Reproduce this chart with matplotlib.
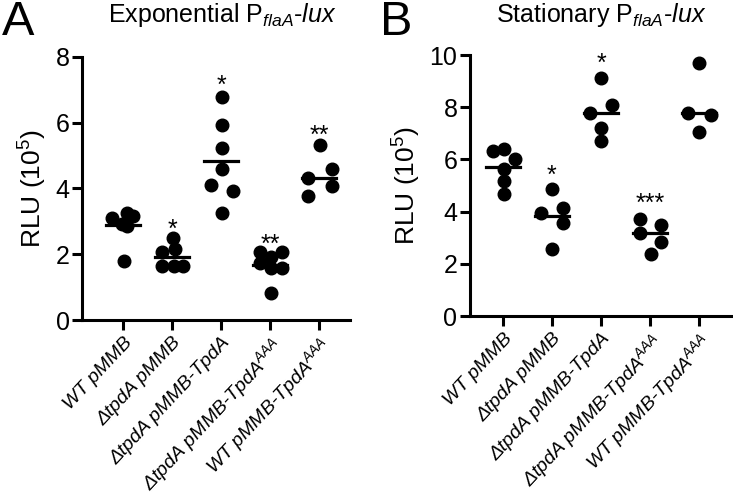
import matplotlib
matplotlib.use('Agg')
import matplotlib.pyplot as plt
import numpy as np

plt.rcParams['font.family'] = ['Liberation Sans', 'DejaVu Sans']
plt.rcParams['mathtext.fontset'] = 'custom'
plt.rcParams['mathtext.rm'] = 'Liberation Sans'
plt.rcParams['mathtext.it'] = 'Liberation Sans:italic'
plt.rcParams['mathtext.bf'] = 'Liberation Sans:bold'

# strains on the x axis
groups = ['WT pMMB', 'ΔtpdA pMMB', 'ΔtpdA pMMB-TpdA',
          'ΔtpdA pMMB-TpdA$^{AAA}$', 'WT pMMB-TpdA$^{AAA}$']

# exponential phase, RLU (10^5)
exp_vals = [
    [3.09, 3.25, 3.15, 2.93, 2.85, 1.80],
    [2.50, 2.15, 2.06, 1.64, 1.64, 1.64],
    [6.79, 5.93, 5.24, 4.58, 4.11, 3.92, 3.26],
    [2.06, 2.06, 1.91, 1.72, 1.57, 1.59, 0.81],
    [5.32, 4.59, 4.31, 4.08, 3.78],
]
exp_lines = [2.88, 1.92, 4.85, 1.68, 4.31]
exp_stars = ['', '*', '*', '**', '**']

# stationary phase, RLU (10^5)
stat_vals = [
    [6.33, 6.40, 6.00, 5.63, 5.19, 4.66],
    [4.87, 3.93, 4.13, 3.58, 2.57],
    [9.11, 8.08, 7.79, 7.19, 6.72],
    [3.70, 3.49, 3.19, 2.85, 2.38],
    [9.68, 7.79, 7.70, 7.06],
]
stat_lines = [5.72, 3.83, 7.79, 3.17, 7.76]
stat_stars = ['', '*', '*', '***', '']

# layout: horizontal scatter of the dots, and height of the stars
exp_jitter = [
    [-0.23, 0.08, 0.21, -0.03, 0.08, 0.02],
    [0.01, 0.06, -0.21, -0.21, 0.03, 0.23],
    [0.01, 0.01, 0.01, 0.01, -0.20, 0.24, 0.01],
    [-0.21, 0.24, 0.01, -0.21, 0.01, 0.24, 0.01],
    [0.02, 0.26, -0.22, 0.26, -0.22],
]
stat_jitter = [
    [-0.21, 0.02, 0.24, 0.02, 0.02, 0.02],
    [0.0, -0.23, 0.23, 0.23, 0.0],
    [0.0, 0.23, -0.22, 0.0, 0.0],
    [-0.21, 0.22, -0.21, 0.22, 0.01],
    [0.0, -0.22, 0.24, 0.0],
]
exp_star_y = [0, 2.98, 7.36, 2.53, 5.83]
stat_star_y = [0, 5.66, 9.94, 4.57, 0]


def draw_panel(ax, vals, lines, jitter, stars, star_y, ymax, xlim):
    for i, v in enumerate(vals):
        x = i + np.array(jitter[i])
        ax.scatter(x, v, s=82, color='black', zorder=3, clip_on=False)
        ax.plot([i - 0.34, i + 0.34], [lines[i], lines[i]], color='black', lw=2.3, zorder=4)
        if stars[i]:
            ax.annotate(stars[i], (i, star_y[i]), xytext=(0, -10.5), textcoords='offset points',
                        ha='center', va='baseline', fontsize=18)
    ax.set_xlim(*xlim)
    ax.set_ylim(0, ymax)
    ax.set_yticks(np.arange(0, ymax + 1, 2))
    ax.set_xticks(range(len(groups)))
    ax.set_xticklabels(groups, rotation=47, ha='right', rotation_mode='anchor',
                       fontstyle='italic', fontsize=14)
    ax.spines['top'].set_visible(False)
    ax.spines['right'].set_visible(False)
    for s in ['left', 'bottom']:
        ax.spines[s].set_linewidth(2.2)
    ax.tick_params(axis='both', width=2.2, length=7)
    ax.tick_params(axis='x', pad=3)
    ax.tick_params(axis='y', labelsize=18, pad=2)
    ax.set_ylabel('RLU (10$^5$)', fontsize=19, labelpad=5)


fig = plt.figure(figsize=(7.33, 4.93), dpi=100)
ax1 = fig.add_axes([0.1119, 0.3509, 0.3656, 0.5335])
ax2 = fig.add_axes([0.6412, 0.359, 0.3588, 0.5294])

draw_panel(ax1, exp_vals, exp_lines, exp_jitter, exp_stars, exp_star_y, 8, (-0.837, 4.63))
draw_panel(ax2, stat_vals, stat_lines, stat_jitter, stat_stars, stat_star_y, 10, (-0.67, 4.69))

fig.text(0.303, 0.955, 'Exponential P$_{flaA}$-$lux$', ha='center', va='baseline', fontsize=18)
fig.text(0.820, 0.955, 'Stationary P$_{flaA}$-$lux$', ha='center', va='baseline', fontsize=18)
fig.text(0.003, 1.0, 'A', ha='left', va='top', fontsize=35)
fig.text(0.519, 1.0, 'B', ha='left', va='top', fontsize=35)

plt.savefig('out.png', dpi=100)
